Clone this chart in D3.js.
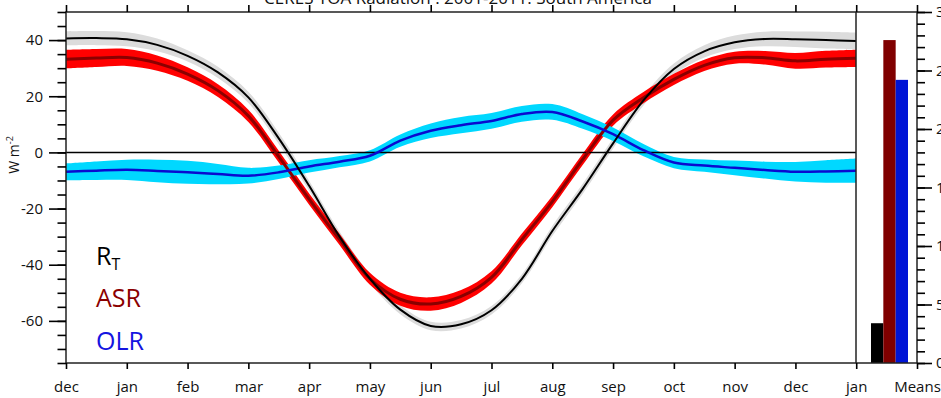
<!DOCTYPE html>
<html><head><meta charset="utf-8">
<script src="https://cdn.jsdelivr.net/npm/d3@7"></script>
<style>
html,body{margin:0;padding:0;background:#fff;}
svg{display:block;font-family:"Open Sans",sans-serif;}
</style></head><body>
<svg id="chart" width="941" height="398"></svg>
<script>
// Month labels along the bottom axis (dec .. jan), then the means panel
const monthLabels = ["dec","jan","feb","mar","apr","may","jun","jul","aug","sep","oct","nov","dec","jan"];
const meansLabel = "Means";

// Sample positions in months after the first December
const months = [0,0.5,1,1.5,2,2.5,3,3.5,4,4.5,5,5.5,6,6.5,7,7.5,8,8.5,9,9.5,10,10.5,11,11.5,12,12.5,13];

// Seasonal departures (W m-2) and their spread
const rtValues  = [40.6,40.7,40.3,38.3,34.4,28.5,19.6,5.0,-11.9,-30,-45,-56,-61.8,-61.2,-56.2,-45,-28,-13,3.2,18.5,29.7,36,39.2,40.4,40.3,40.0,39.7];
const rtSpread  = [2.5,2.5,2.5,2.3,2.0,2.0,2.0,2.0,1.8,1.8,1.7,1.6,1.5,1.5,1.5,1.6,1.8,1.8,1.8,1.8,2.0,2.2,2.4,2.6,2.8,3.0,3.0];
const asrValues = [33.2,33.6,33.8,31.8,27.9,22,13,-1.5,-16.6,-31,-45,-52.3,-54,-51.3,-44.5,-31,-17.5,-2.5,11.5,19.5,26,31,33.7,33.7,32.6,33.2,33.5];
const asrSpread = [3.3,3.2,3.0,2.7,2.4,2.3,2.2,2.1,2.0,2.0,2.1,2.3,2.4,2.3,2.2,2.1,2.0,2.0,2.0,2.0,2.0,2.0,2.1,2.4,2.8,3.0,3.1];
const olrValues = [-6.9,-6.5,-6.2,-6.6,-7.1,-7.7,-8.3,-7.1,-5.0,-3.3,-1.2,4.2,7.7,9.7,11.2,13.7,14.4,11,6.5,0.8,-3.6,-4.7,-5.5,-6.3,-6.9,-6.8,-6.5];
const olrSpread = [3.0,3.3,3.6,4.0,4.1,3.6,2.8,2.4,2.2,2.0,2.0,2.2,2.6,2.9,2.8,2.8,2.8,2.6,2.4,2.2,2.0,2.2,2.6,3.0,3.5,4.0,4.3];

// Annual means (W m-2)
const meanNames  = ["RT","ASR","OLR"];
const meanValues = [34, 276, 242];

// Axis ticks
const leftMajor  = [-60,-40,-20,0,20,40];
const rightMajor = [0,50,100,150,200,250,300];

const svg = d3.select("#chart");
const L = 66, R = 856, RP = 917, T = 12, B = 363;

const x  = d3.scaleLinear().domain([0, 14]).range([L, RP]);
const y  = d3.scaleLinear().domain([-75, 50]).range([B, T]);
const yR = d3.scaleLinear().domain([0, 300]).range([B, T]);

const curve = d3.curveCatmullRom.alpha(0.5);
const clip = svg.append("clipPath").attr("id","plotclip")
  .append("rect").attr("x", L).attr("y", T).attr("width", R - L).attr("height", B - T);

const plot = svg.append("g").attr("clip-path","url(#plotclip)");

function series(vals, spread){
  return months.map((m,i) => ({m, v: vals[i], s: spread[i]}));
}
const band = d3.area().curve(curve)
  .x(d => x(d.m)).y0(d => y(d.v - d.s)).y1(d => y(d.v + d.s));
const line = d3.line().curve(curve).x(d => x(d.m)).y(d => y(d.v));

const rt = series(rtValues, rtSpread), asr = series(asrValues, asrSpread), olr = series(olrValues, olrSpread);

plot.append("path").attr("d", band(rt)).attr("fill", "#dcdcdc");
plot.append("path").attr("d", band(asr)).attr("fill", "#ff0000");
plot.append("path").attr("d", band(olr)).attr("fill", "#00d8ff");

// zero line
plot.append("line").attr("x1", L).attr("x2", R).attr("y1", y(0)).attr("y2", y(0))
  .attr("stroke", "#000").attr("stroke-width", 1.5);

plot.append("path").attr("d", line(asr)).attr("fill","none").attr("stroke","#8b0000").attr("stroke-width",3);
plot.append("path").attr("d", line(olr)).attr("fill","none").attr("stroke","#0a0ad0").attr("stroke-width",2.5);
plot.append("path").attr("d", line(rt)).attr("fill","none").attr("stroke","#000").attr("stroke-width",2);

// Means panel bars
const xb = d3.scaleBand().domain(meanNames).range([871, 908]).padding(0);
const barColors = {RT:"#000000", ASR:"#800000", OLR:"#0014d6"};
svg.append("g").selectAll("rect").data(meanNames).join("rect")
  .attr("x", d => xb(d)).attr("width", xb.bandwidth())
  .attr("y", (d,i) => yR(meanValues[i])).attr("height", (d,i) => B - yR(meanValues[i]))
  .attr("fill", d => barColors[d]);

// Frame and panel separator
svg.append("rect").attr("x", L).attr("y", T).attr("width", RP - L).attr("height", B - T)
  .attr("fill","none").attr("stroke","#222").attr("stroke-width",1.5);
svg.append("line").attr("x1", R).attr("x2", R).attr("y1", T).attr("y2", B)
  .attr("stroke","#222").attr("stroke-width",1.5);

function style(g, size){
  g.select(".domain").remove();
  g.selectAll(".tick line").attr("stroke","#000").attr("stroke-width",1.6);
  g.selectAll(".tick text").attr("font-size", size).attr("fill","#111").attr("font-family","'Open Sans',sans-serif");
}

// Left axis: major and minor ticks
svg.append("g").attr("transform",`translate(${L},0)`)
  .call(d3.axisLeft(y).tickValues(d3.range(-75, 51, 5)).tickSize(8.5).tickFormat(""))
  .call(g => style(g, 15));
svg.append("g").attr("transform",`translate(${L},0)`)
  .call(d3.axisLeft(y).tickValues(leftMajor).tickSize(17).tickPadding(6).tickFormat(d => String(d)))
  .call(g => style(g, 15));

// Right axis for the means
svg.append("g").attr("transform",`translate(${RP},0)`)
  .call(d3.axisRight(yR).tickValues(d3.range(0, 301, 10)).tickSize(8).tickFormat(""))
  .call(g => style(g, 15));
svg.append("g").attr("transform",`translate(${RP},0)`)
  .call(d3.axisRight(yR).tickValues(rightMajor).tickSize(15).tickPadding(4).tickFormat(d => String(d)))
  .call(g => style(g, 15));

// Bottom and top axes
const allLabels = monthLabels.concat([meansLabel]);
svg.append("g").attr("transform",`translate(0,${B})`)
  .call(d3.axisBottom(x).tickValues(d3.range(0, 15)).tickSize(6).tickPadding(12).tickFormat(i => allLabels[i]))
  .call(g => style(g, 15));
svg.append("g").attr("transform",`translate(0,${T})`)
  .call(d3.axisTop(x).tickValues(d3.range(0, 15)).tickSize(7).tickFormat(""))
  .call(g => style(g, 15));

// Title
svg.append("text").attr("x", 458).attr("y", 4).attr("text-anchor","middle")
  .attr("font-size", 17).attr("fill","#111")
  .text("CERES TOA Radiation : 2001-2011: South America");

// Y-axis label
const yl = svg.append("text").attr("transform","translate(19,155) rotate(-90)")
  .attr("text-anchor","middle").attr("font-size", 14).attr("fill","#111");
yl.append("tspan").text("W m");
yl.append("tspan").attr("font-size", 9).attr("dy", -6).text("-2");

// Legend
const lg = svg.append("g").attr("font-size", 25);
const rtLab = lg.append("text").attr("x", 96).attr("y", 265).attr("fill","#000");
rtLab.append("tspan").text("R");
rtLab.append("tspan").attr("font-size", 16).attr("dy", 5).text("T");
lg.append("text").attr("x", 96).attr("y", 307).attr("fill","#8b0000").text("ASR");
lg.append("text").attr("x", 96).attr("y", 350).attr("fill","#1414e0").text("OLR");
</script>
</body></html>
